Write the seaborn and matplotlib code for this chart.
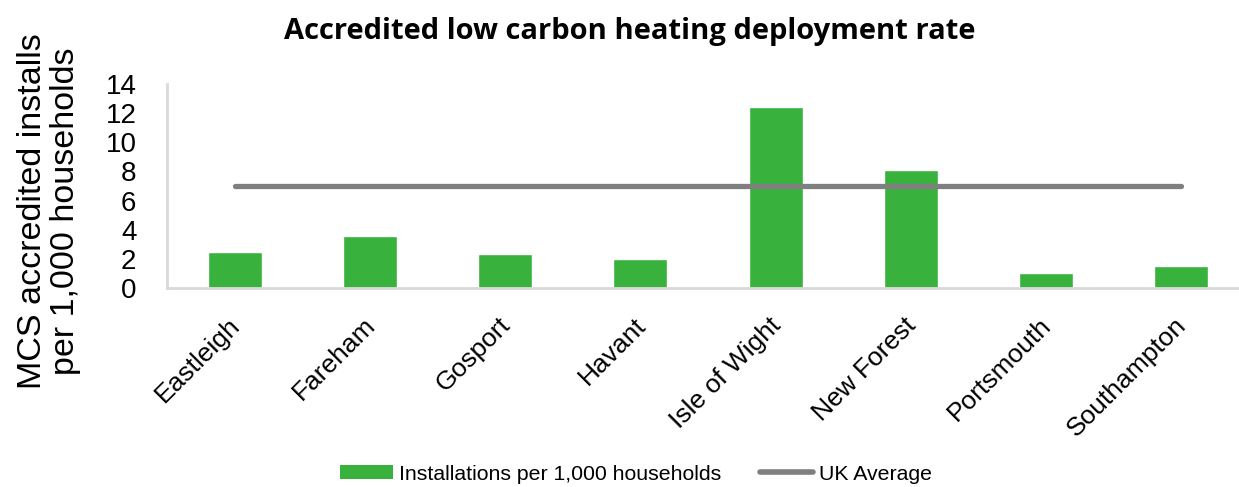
import numpy as np
import pandas as pd
import matplotlib
matplotlib.use("Agg")
import matplotlib.pyplot as plt
import matplotlib.transforms as mtransforms
import seaborn as sns
from matplotlib.patches import Patch
from matplotlib.lines import Line2D

categories = ["Eastleigh", "Fareham", "Gosport", "Havant", "Isle of Wight",
              "New Forest", "Portsmouth", "Southampton"]
installs = [2.5, 3.6, 2.3, 2.0, 12.4, 8.1, 1.0, 1.5]
uk_average = [7.0, 7.0, 7.0, 7.0, 7.0, 7.0, 7.0, 7.0]
yticks = [0, 2, 4, 6, 8, 10, 12, 14]

title = "Accredited low carbon heating deployment rate"
ylabel = "MCS accredited installs\nper 1,000 households"
bar_label = "Installations per 1,000 households"
line_label = "UK Average"

GREEN = "#39B13D"
GREY = "#7F7F7F"

sns.set_theme(style="white")
plt.rcParams["font.family"] = ["Liberation Sans", "DejaVu Sans"]
plt.rcParams["text.color"] = "black"
plt.rcParams["xtick.color"] = "black"
plt.rcParams["ytick.color"] = "black"

W, H = 1239, 487
fig = plt.figure(figsize=(W / 100, H / 100), dpi=100)
ax = fig.add_axes([167 / W, (H - 288) / H, 1082 / W, 204 / H])

df = pd.DataFrame({"area": categories, "value": installs, "uk": uk_average})
sns.barplot(data=df, x="area", y="value", color=GREEN, width=0.4,
            saturation=1, ax=ax, zorder=2)
sns.lineplot(x=np.arange(len(categories)), y=df["uk"], ax=ax, color=GREY,
             linewidth=3.8, solid_capstyle="round", zorder=3)

ax.set_xlim(-0.5, len(categories) - 0.5)
ax.set_ylim(0, 14)
ax.set_yticks(yticks)
ax.set_yticklabels([str(t) for t in yticks], fontsize=20, color="black")
ax.set_xlabel("")
ax.set_ylabel("")
ax.tick_params(axis="y", length=0, pad=22, colors="black")
ax.tick_params(axis="x", length=0, pad=18, colors="black")
offset = mtransforms.ScaledTranslation(-7 / 100, 0, fig.dpi_scale_trans)
for lab in ax.get_xticklabels():
    lab.set_rotation(45)
    lab.set_ha("right")
    lab.set_va("top")
    lab.set_rotation_mode("anchor")
    lab.set_fontsize(19)
    lab.set_color("black")
    lab.set_transform(lab.get_transform() + offset)

for s in ["top", "right"]:
    ax.spines[s].set_visible(False)
for s in ["left", "bottom"]:
    ax.spines[s].set_color("#D9D9D9")
    ax.spines[s].set_linewidth(2)
ax.grid(False)

fig.text(49 / W, 1 - 211 / H, ylabel, rotation=90, ha="center", va="center",
         fontsize=24.5, multialignment="center", linespacing=1.1, color="black")

fig.text(630 / W, 1 - 32 / H, title, ha="center", va="center", fontsize=21,
         fontweight="bold", family=["Open Sans", "DejaVu Sans"], color="black")

handles = [Patch(facecolor=GREEN, edgecolor="none", label=bar_label),
           Line2D([0], [0], color=GREY, linewidth=4, solid_capstyle="round",
                  label=line_label)]
fig.legend(handles=handles, loc="center", bbox_to_anchor=(636 / W, 1 - 474 / H),
           ncol=2, frameon=False, fontsize=15.3, handlelength=2.5,
           handleheight=0.6, columnspacing=1.8, handletextpad=0.3,
           labelcolor="black")

fig.savefig("out.png", dpi=100)
